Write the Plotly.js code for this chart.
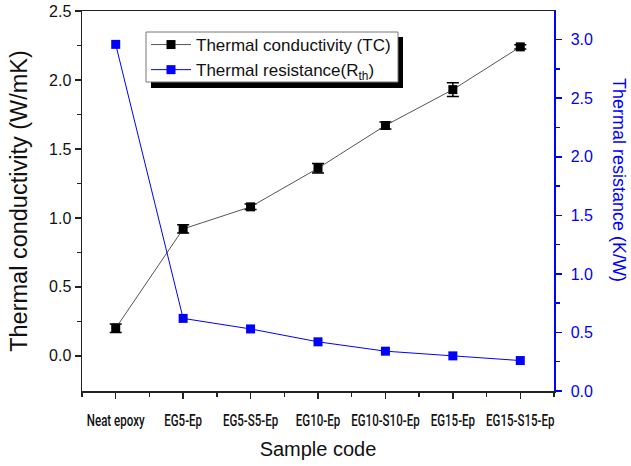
<!DOCTYPE html>
<html>
<head>
<meta charset="utf-8">
<script src="https://cdn.plot.ly/plotly-3.0.1.min.js"></script>
<style>html,body{margin:0;padding:0;background:#fff;}#chart{width:631px;height:466px;}</style>
</head>
<body>
<div id="chart"></div>
<script>
const categories = ["Neat epoxy", "EG5-Ep", "EG5-S5-Ep", "EG10-Ep", "EG10-S10-Ep", "EG15-Ep", "EG15-S15-Ep"];
const tcValues = [0.20, 0.92, 1.08, 1.36, 1.67, 1.93, 2.24];
const tcErrors = [0.03, 0.03, 0.02, 0.035, 0.025, 0.05, 0.015];
const rthValues = [2.96, 0.62, 0.53, 0.42, 0.34, 0.30, 0.26];
const xIdx = categories.map((c, i) => i);

const tc = {
  x: xIdx, y: tcValues, name: "Thermal conductivity (TC)",
  type: "scatter", mode: "lines+markers",
  line: {color: "#555555", width: 1},
  marker: {symbol: "square", size: 9, color: "#000000"},
  error_y: {type: "data", array: tcErrors, visible: true, color: "#000000", thickness: 1.5, width: 6},
  yaxis: "y"
};
const rth = {
  x: xIdx, y: rthValues, name: "Thermal resistance(R<sub>th</sub>)",
  type: "scatter", mode: "lines+markers",
  line: {color: "#0000ff", width: 1},
  marker: {symbol: "square", size: 9, color: "#0000ff"},
  yaxis: "y2"
};

const sans = "Liberation Sans, Arial, sans-serif";
// legend frame (pixel box converted to paper units of the 472x380 plot area at l=82,t=11)
const PX = v => (v - 82) / 472;
const PY = v => 1 - (v - 11) / 380;
const layout = {
  width: 631, height: 466,
  margin: {l: 82, r: 77, t: 11, b: 75},
  paper_bgcolor: "#ffffff", plot_bgcolor: "#ffffff",
  showlegend: true,
  legend: {
    x: PX(146), y: PY(27), xanchor: "left", yanchor: "top",
    bgcolor: "rgba(0,0,0,0)", borderwidth: 0,
    font: {family: sans, size: 17, color: "#111"},
    tracegroupgap: 0, itemwidth: 40
  },
  shapes: [
    {type: "rect", xref: "paper", yref: "paper", layer: "above",
     x0: PX(151), x1: PX(403), y0: PY(88), y1: PY(37),
     fillcolor: "#000000", line: {width: 0}},
    {type: "rect", xref: "paper", yref: "paper", layer: "above",
     x0: PX(146), x1: PX(398), y0: PY(82), y1: PY(32),
     fillcolor: "#ffffff", line: {width: 1, color: "#777777"}}
  ],
  xaxis: {
    range: [-0.5, 6.5],
    tickmode: "array", tickvals: xIdx, ticktext: categories, tickangle: 0,
    ticks: "outside", ticklen: 6, tickwidth: 1.5, tickcolor: "#222",
    ticklabelstandoff: 8,
    minor: {tickmode: "array", tickvals: [-0.5,0.5,1.5,2.5,3.5,4.5,5.5,6.5], ticks: "outside", ticklen: 4, tickwidth: 1.5, tickcolor: "#222"},
    showline: true, linecolor: "#222", linewidth: 1.5, mirror: true,
    showgrid: false, zeroline: false,
    tickfont: {family: "Roboto, sans-serif", size: 16.5, color: "#111", weight: 500},
    title: {text: "Sample code", font: {family: sans, size: 20, color: "#111"}, standoff: 12}
  },
  yaxis: {
    range: [-0.255, 2.5],
    tickvals: [0, 0.5, 1.0, 1.5, 2.0, 2.5], ticktext: ["0.0","0.5","1.0","1.5","2.0","2.5"],
    ticks: "outside", ticklen: 6, tickwidth: 1.5, tickcolor: "#222",
    minor: {tickvals: [0.25,0.75,1.25,1.75,2.25], ticks: "outside", ticklen: 4, tickwidth: 1.5, tickcolor: "#222"},
    showline: true, linecolor: "#222", linewidth: 1.5,
    showgrid: false, zeroline: false,
    tickfont: {family: sans, size: 16, color: "#111"},
    title: {text: "Thermal conductivity (W/mK)", font: {family: sans, size: 23.5, color: "#111"}, standoff: 15}
  },
  yaxis2: {
    overlaying: "y", side: "right",
    range: [0, 3.245],
    tickvals: [0, 0.5, 1.0, 1.5, 2.0, 2.5, 3.0], ticktext: ["0.0","0.5","1.0","1.5","2.0","2.5","3.0"],
    ticks: "outside", ticklen: 6, tickwidth: 1.5, tickcolor: "#0000ff",
    ticklabelstandoff: 6,
    minor: {tickvals: [0.25,0.75,1.25,1.75,2.25,2.75], ticks: "outside", ticklen: 4, tickwidth: 1.5, tickcolor: "#0000ff"},
    showline: true, linecolor: "#0000ff", linewidth: 1.5,
    showgrid: false, zeroline: false,
    tickfont: {family: sans, size: 16, color: "#0000ff"}
  },
  annotations: [
    {text: "Thermal resistance (K/W)", xref: "paper", yref: "paper", x: PX(619), y: PY(180),
     xanchor: "center", yanchor: "middle", textangle: 90, showarrow: false,
     font: {family: sans, size: 18, color: "#0000ff"}}
  ]
};

const gd = document.getElementById("chart");
Plotly.newPlot(gd, [tc, rth], layout, {displayModeBar: false, staticPlot: true}).then(function () {
  // condense the category labels horizontally like the reference's narrow font
  gd.querySelectorAll(".xtick text").forEach(function (t) {
    const x = parseFloat(t.getAttribute("x")) || 0;
    const prev = t.getAttribute("transform") || "";
    t.setAttribute("transform", prev + " translate(" + x + ",0) scale(0.7,1) translate(" + (-x) + ",0)");
  });
});
</script>
</body>
</html>
